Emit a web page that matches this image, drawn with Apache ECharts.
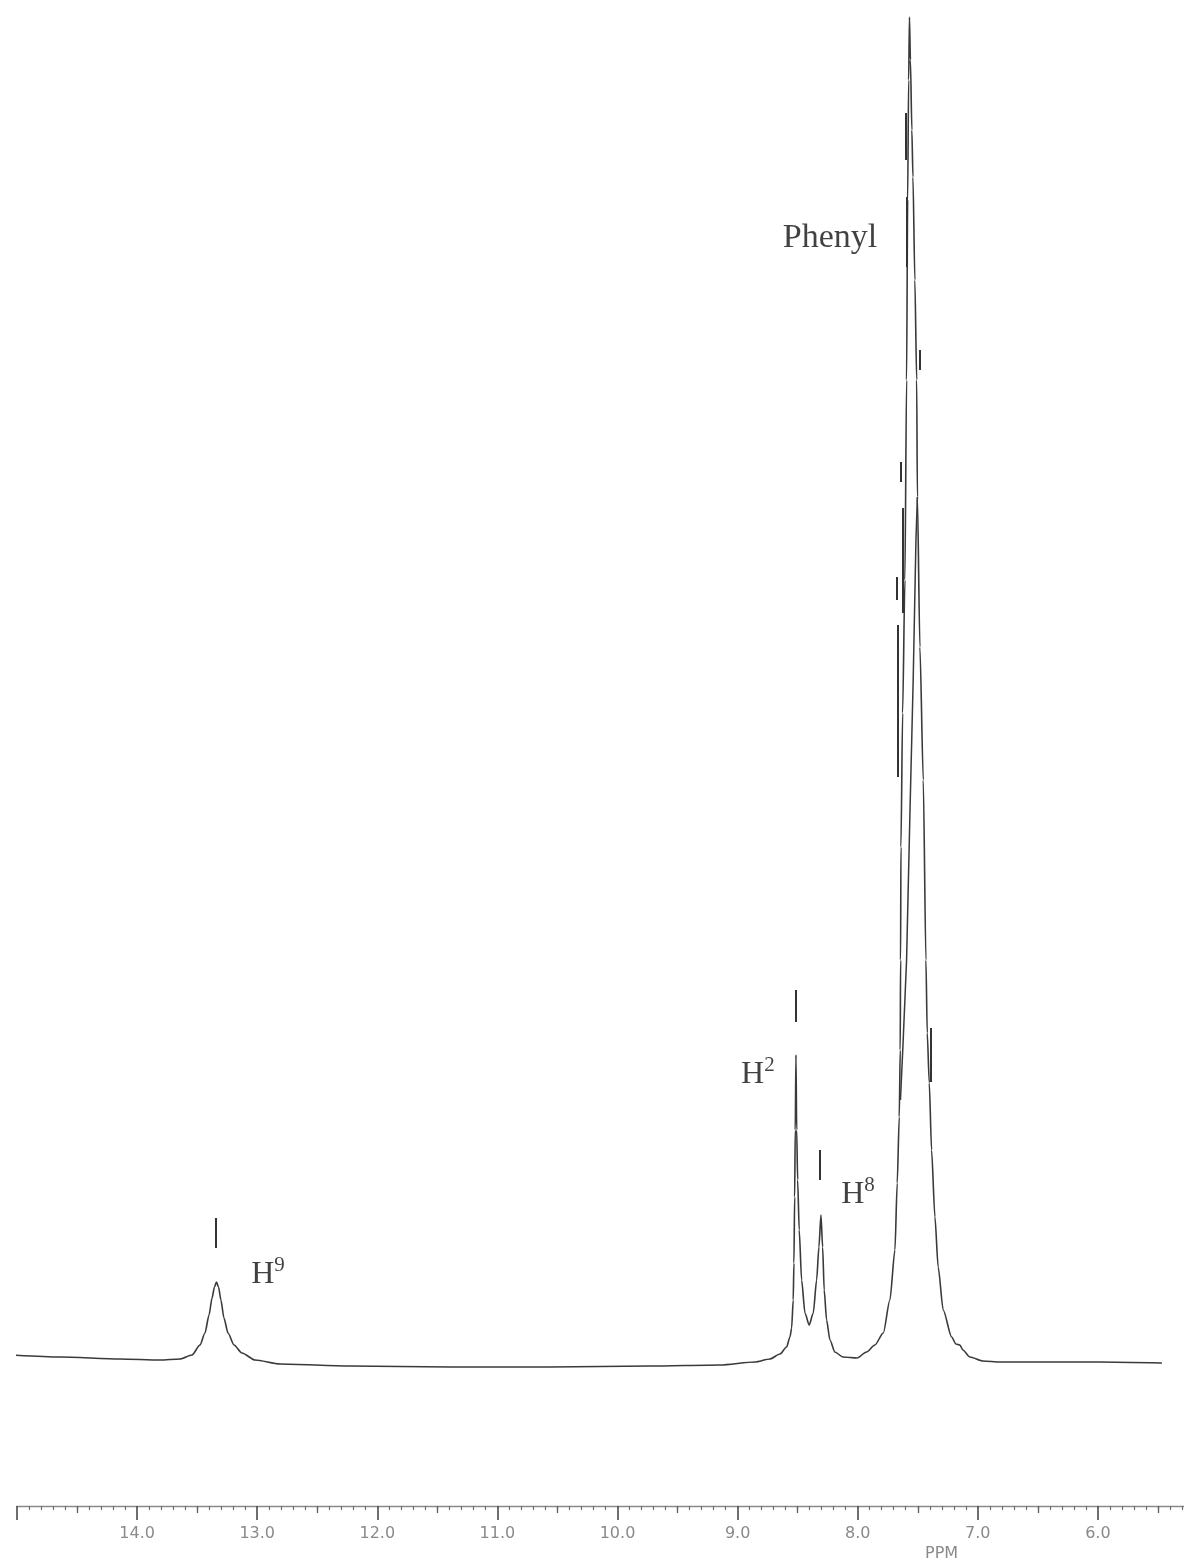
<!DOCTYPE html>
<html>
<head>
<meta charset="utf-8">
<script src="https://cdn.jsdelivr.net/npm/echarts@6/dist/echarts.min.js"></script>
<style>
  html, body { margin: 0; padding: 0; background: #ffffff; }
  #chart { width: 1184px; height: 1561px; }
</style>
</head>
<body>
<div id="chart"></div>
<script>
// 1H NMR trace: chemical shift (ppm) and signal height (plotter units, baseline ~0)
const shiftPpm = [
  15.042, 14.642, 14.142, 13.809, 13.643, 13.543, 13.476, 13.435, 13.401, 13.376,
  13.356, 13.339, 13.322, 13.302, 13.277, 13.243, 13.193, 13.127, 13.018, 12.810,
  12.228, 11.395, 10.562, 9.730, 9.147, 8.856, 8.731, 8.647, 8.592, 8.564,
  8.550, 8.537, 8.531, 8.525, 8.520, 8.514, 8.508, 8.500, 8.487, 8.467,
  8.439, 8.404, 8.370, 8.342, 8.323, 8.306, 8.292, 8.279, 8.259, 8.231,
  8.190, 8.123, 8.006, 7.926, 7.857, 7.787, 7.732, 7.690, 7.671, 7.654,
  7.646, 7.643, 7.640, 7.626, 7.607, 7.593, 7.584, 7.576, 7.569, 7.561,
  7.549, 7.540, 7.524, 7.509, 7.503, 7.482, 7.454, 7.432, 7.421, 7.404,
  7.385, 7.357, 7.330, 7.288, 7.218, 7.182, 7.149, 7.124, 7.066, 6.957,
  6.816, 6.400, 5.983, 5.467
];
const signal = [
  7, 5, 3, 2, 3, 7, 17, 29, 47, 64,
  75, 80, 75, 62, 44, 29, 17, 9, 2, -2,
  -4, -5, -5, -4, -3, 0, 3, 8, 15, 25,
  34, 62, 99, 165, 232, 307, 232, 182, 132, 82,
  49, 37, 49, 82, 115, 147, 115, 72, 42, 22,
  10, 5, 4, 10, 17, 29, 62, 112, 179, 245,
  312, 402, 515, 649, 782, 982, 1162, 1282, 1345, 1302,
  1232, 1185, 1082, 982, 865, 715, 582, 402, 329, 279,
  212, 145, 95, 52, 25, 18, 17, 12, 5, 1,
  0, 0, 0, -1
];

// second pen stroke inside the phenyl multiplet
const innerPpm    = [7.644, 7.623, 7.593, 7.565, 7.538, 7.515, 7.503];
const innerSignal = [262, 317, 402, 549, 682, 822, 865];

// peak-pick bars: position and vertical extent
const pickPpm  = [13.343, 8.514, 8.314, 7.598, 7.593, 7.640, 7.629, 7.676, 7.668, 7.482, 7.394];
const pickLow  = [114, 340, 182, 1202, 1095, 880, 749, 762, 585, 992, 280];
const pickHigh = [144, 372, 212, 1249, 1165, 900, 854, 785, 737, 1012, 334];

// assignment labels
const labelText = ['Phenyl', 'H', 'H', 'H'];
const labelSup  = ['', '2', '8', '9'];
const labelPpm  = [8.230, 8.831, 7.998, 12.910];
const labelHeight = [1124, 289, 169, 89];

// ppm scale
const majorTicks = [15, 14, 13, 12, 11, 10, 9, 8, 7, 6];
const halfTicks  = [14.5, 13.5, 12.5, 11.5, 10.5, 9.5, 8.5, 7.5, 6.5, 5.5];
const tickLabels = ['', '14.0', '13.0', '12.0', '11.0', '10.0', '9.0', '8.0', '7.0', '6.0'];

const chart = echarts.init(document.getElementById('chart'), null, { renderer: 'canvas' });

const xBase = {
  type: 'value',
  min: 5,
  max: 15,
  interval: 1,
  inverse: true,
  position: 'bottom',
  splitLine: { show: false }
};

const option = {
  animation: false,
  backgroundColor: '#ffffff',
  // the 5 ppm end of the scale runs past the right edge of the sheet
  grid: { left: 17, top: 0, width: 1201, height: 1506, outerBoundsMode: 'none', containLabel: false },
  xAxis: [
    Object.assign({}, xBase, {
      axisLine: { show: true, onZero: false, lineStyle: { color: '#8a8a8a', width: 1.4 } },
      axisTick: {
        show: true, inside: false, length: 14, customValues: majorTicks,
        lineStyle: { color: '#4a4a4a', width: 1.6 }
      },
      minorTick: {
        show: true, splitNumber: 10, length: 4,
        lineStyle: { color: '#6f6f6f', width: 1.2 }
      },
      axisLabel: {
        show: true, margin: 20, customValues: majorTicks,
        color: '#8a8a8a', fontFamily: 'DejaVu Sans', fontSize: 16,
        formatter: function (v) {
          const i = majorTicks.indexOf(Math.round(v));
          return i >= 0 ? tickLabels[i] : '';
        }
      }
    }),
    Object.assign({}, xBase, {
      axisLine: { show: false, onZero: false },
      axisTick: {
        show: true, inside: false, length: 7, customValues: halfTicks,
        lineStyle: { color: '#5f5f5f', width: 1.3 }
      },
      axisLabel: { show: false }
    })
  ],
  yAxis: { type: 'value', min: -144, max: 1362, show: false },
  graphic: [
    {
      type: 'text', left: 925, top: 1546,
      style: { text: 'PPM', font: '16px "DejaVu Sans"', fill: '#8a8a8a' }
    }
  ],
  series: [
    {
      name: 'spectrum',
      type: 'line',
      xAxisIndex: 0,
      data: shiftPpm.map((p, i) => [p, signal[i]]),
      showSymbol: false,
      smooth: 0.25,
      smoothMonotone: 'x',
      clip: false,
      lineStyle: { color: '#3a3a3a', width: 1.6 },
      markLine: {
        silent: true,
        symbol: ['none', 'none'],
        label: { show: false },
        lineStyle: { type: 'solid', color: '#333333', width: 2 },
        data: pickPpm.map((p, i) => [{ coord: [p, pickLow[i]] }, { coord: [p, pickHigh[i]] }])
      }
    },
    {
      name: 'phenyl inner',
      type: 'line',
      xAxisIndex: 0,
      data: innerPpm.map((p, i) => [p, innerSignal[i]]),
      showSymbol: false,
      clip: false,
      lineStyle: { color: '#3a3a3a', width: 1.5 }
    },
    {
      name: 'assignments',
      type: 'scatter',
      xAxisIndex: 0,
      symbolSize: 1,
      itemStyle: { color: 'rgba(0,0,0,0)' },
      data: labelPpm.map((p, i) => [p, labelHeight[i], labelText[i], labelSup[i]]),
      label: {
        show: true,
        position: 'inside',
        formatter: function (d) {
          return d.data[3] ? '{b|' + d.data[2] + '}{s|' + d.data[3] + '}' : '{p|' + d.data[2] + '}';
        },
        rich: {
          p: { fontFamily: 'Liberation Serif', fontSize: 34, color: '#111111', lineHeight: 38 },
          b: { fontFamily: 'Liberation Serif', fontSize: 32, color: '#111111', lineHeight: 36, verticalAlign: 'bottom' },
          s: { fontFamily: 'Liberation Serif', fontSize: 21, color: '#111111', lineHeight: 36, verticalAlign: 'top' }
        }
      }
    }
  ]
};

chart.setOption(option);
</script>
</body>
</html>
